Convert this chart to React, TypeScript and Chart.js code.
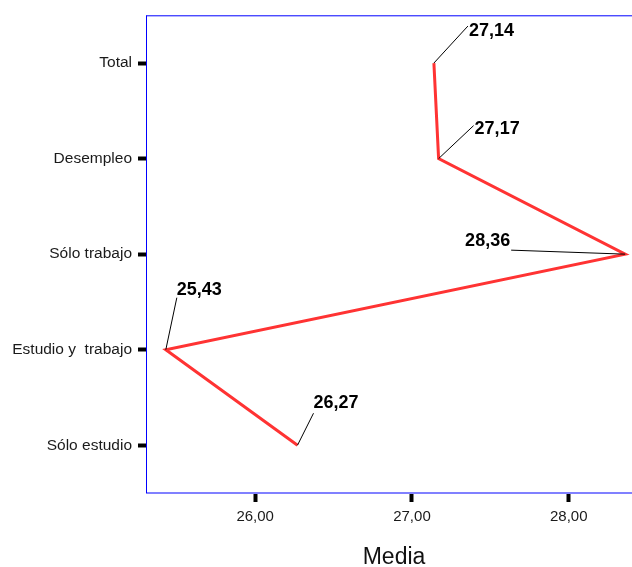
import React, { useEffect, useRef } from "react";
import { Chart, registerables } from "chart.js";

Chart.register(...registerables);

const categories = ["Total", "Desempleo", "Sólo trabajo", "Estudio y  trabajo", "Sólo estudio"];
const means = [27.14, 27.17, 28.36, 25.43, 26.27];
const xTicks = [26, 27, 28];
const valueLabels = ["27,14", "27,17", "28,36", "25,43", "26,27"];

// leader line end offsets and text anchor offsets (pixels, styling only)
const leaderEnds: [number, number][] = [[34, -37], [35, -33], [-114, -4], [11, -52], [16, -32]];
const textPos: [number, number, CanvasTextAlign][] = [
  [35, -27, "left"],
  [36, -25, "left"],
  [-115, -8, "right"],
  [11, -55, "left"],
  [16, -37, "left"],
];

const fmt = (v: number) => v.toFixed(2).replace(".", ",");
const FONT = "'Liberation Sans', Arial, sans-serif";

const labelPlugin = {
  id: "valueLabels",
  afterDatasetsDraw(chart: any) {
    const ctx = chart.ctx;
    const meta = chart.getDatasetMeta(0);
    ctx.save();
    meta.data.forEach((el: any, i: number) => {
      const x = el.x, y = el.y;
      const [lx, ly] = leaderEnds[i];
      ctx.beginPath();
      ctx.strokeStyle = "#000";
      ctx.lineWidth = 1;
      ctx.moveTo(x, y);
      ctx.lineTo(x + lx, y + ly);
      ctx.stroke();
      const [tx, ty, al] = textPos[i];
      ctx.font = "bold 18px " + FONT;
      ctx.fillStyle = "#000";
      ctx.textAlign = al;
      ctx.textBaseline = "alphabetic";
      ctx.fillText(valueLabels[i], x + tx, y + ty);
    });
    ctx.restore();
  },
  afterDraw(chart: any) {
    const { ctx, chartArea } = chart;
    ctx.save();
    ctx.strokeStyle = "#0000ff";
    ctx.lineWidth = 1;
    ctx.beginPath();
    ctx.moveTo(chartArea.left - 0.5, chartArea.top + 0.5);
    ctx.lineTo(chartArea.right, chartArea.top + 0.5);
    ctx.moveTo(chartArea.left - 0.5, chartArea.top);
    ctx.lineTo(chartArea.left - 0.5, chartArea.bottom);
    ctx.stroke();
    ctx.restore();
  },
};

export default function App() {
  const ref = useRef<HTMLCanvasElement>(null);
  useEffect(() => {
    if (!ref.current) return;
    const chart = new Chart(ref.current, {
      type: "line",
      data: {
        labels: categories,
        datasets: [
          {
            data: means,
            borderColor: "rgb(255,51,51)",
            borderWidth: 3,
            pointRadius: 0,
            tension: 0,
            fill: false,
          },
        ],
      },
      options: {
        indexAxis: "y",
        animation: false,
        responsive: false,
        layout: { padding: { top: 13, right: 0, left: 0, bottom: 0 } },
        plugins: { legend: { display: false }, tooltip: { enabled: false } },
        scales: {
          x: {
            type: "linear",
            position: "bottom",
            min: 25.31,
            max: 28.461,
            afterBuildTicks: (s: any) => {
              s.ticks = xTicks.map((v) => ({ value: v }));
            },
            afterFit: (s: any) => {
              s.height = 74;
            },
            border: { color: "#8080ff", width: 2 },
            grid: {
              drawOnChartArea: false,
              drawTicks: true,
              tickLength: 9,
              tickWidth: 4,
              tickColor: "#000",
            },
            ticks: {
              padding: 6,
              color: "#1a1a1a",
              font: { family: FONT, size: 15 },
              callback: (v: any) => fmt(Number(v)),
            },
            title: {
              display: true,
              text: "Media",
              color: "#111",
              font: { family: FONT, size: 23, lineHeight: 0.8 },
              padding: 0,
            },
          },
          y: {
            type: "category",
            offset: true,
            afterFit: (s: any) => {
              s.width = 147;
            },
            border: { display: false },
            grid: {
              offset: false,
              drawOnChartArea: false,
              drawTicks: true,
              tickLength: 9,
              tickWidth: 4,
              tickColor: "#000",
            },
            ticks: {
              padding: 6,
              color: "#1a1a1a",
              font: { family: FONT, size: 15.5 },
            },
          },
        },
      },
      plugins: [labelPlugin],
    } as any);
    return () => chart.destroy();
  }, []);
  return (
    <div style={{ position: "fixed", left: 0, top: 0, width: 641, height: 567, background: "#fff" }}>
      <canvas ref={ref} width={641} height={567} style={{ display: "block" }} />
    </div>
  );
}
